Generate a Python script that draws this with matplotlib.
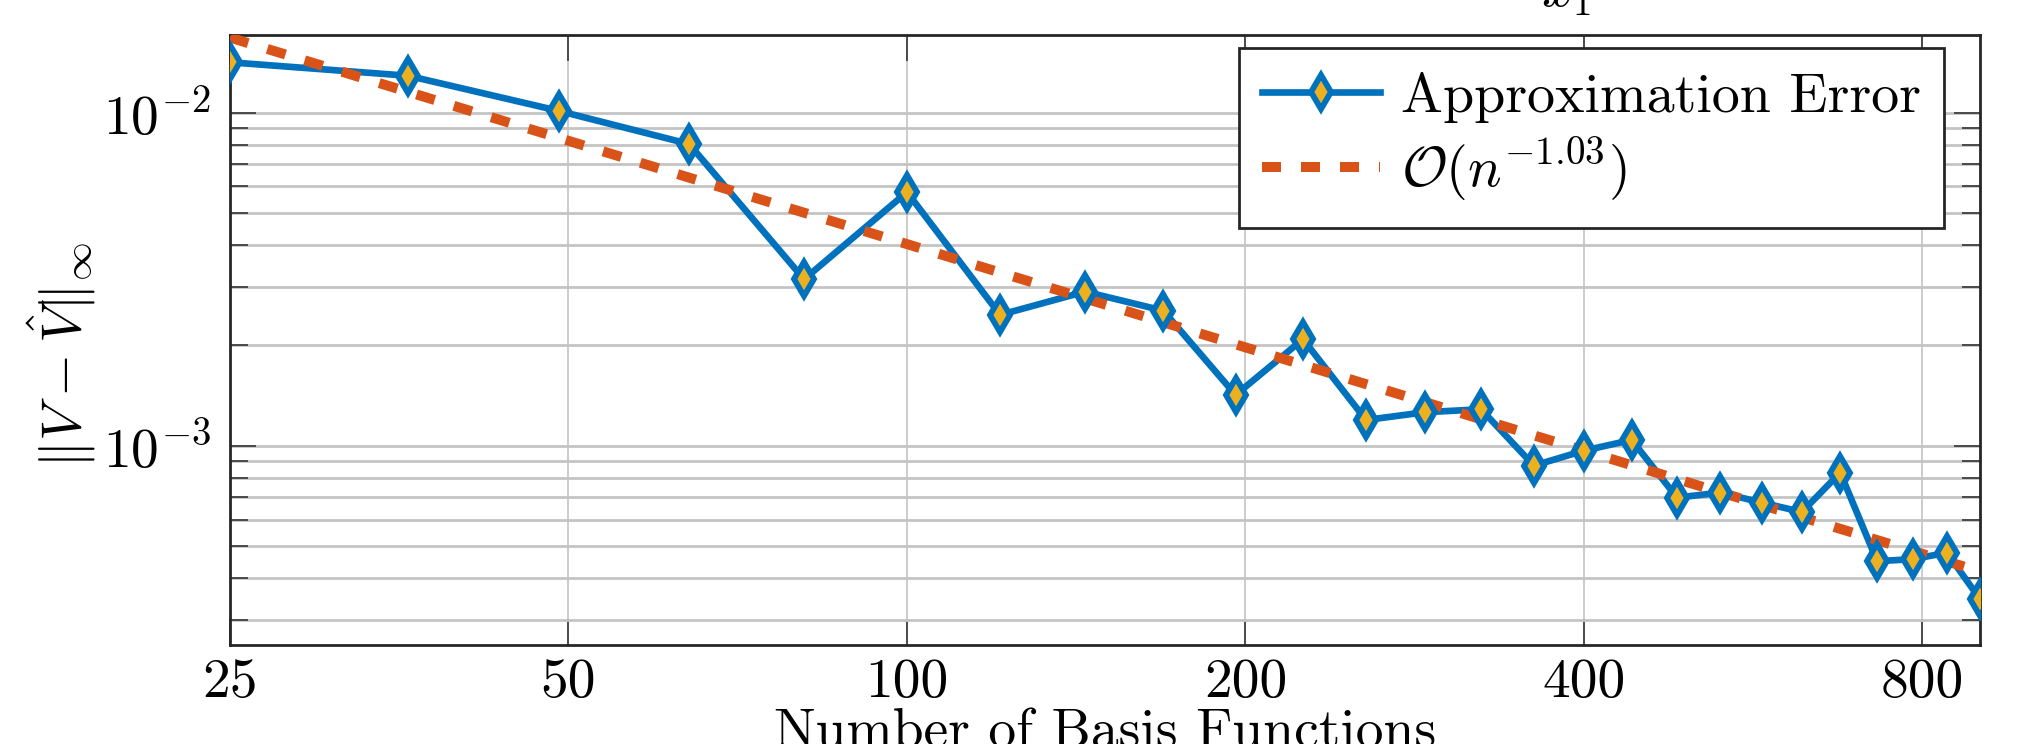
import matplotlib

matplotlib.use("Agg")
import matplotlib.pyplot as plt
from matplotlib.lines import Line2D
from matplotlib.ticker import FixedLocator, LogLocator, NullFormatter, NullLocator

plt.rcParams.update(
    {
        "font.family": "serif",
        "font.serif": ["cmr10"],
        "mathtext.fontset": "cm",
        "axes.formatter.use_mathtext": True,
        "axes.unicode_minus": False,
    }
)

# number of basis functions (k^2, k = 5..30)
n_basis = [25, 36, 49, 64, 81, 100, 121, 144, 169, 196, 225, 256, 289,
           324, 361, 400, 441, 484, 529, 576, 625, 676, 729, 784, 841, 900]
approx_error = [0.01416, 0.0129, 0.01012, 0.00805, 0.00316, 0.00577, 0.00247,
                0.0029, 0.002543, 0.00142, 0.002087, 0.001194, 0.00126,
                0.001286, 0.000871, 0.000966, 0.00104, 0.000698, 0.000723,
                0.000674, 0.000632, 0.00083, 0.00045, 0.000456, 0.000477,
                0.000346]

# end points of the fitted rate line
fit_n = [25, 900]
fit_err = [0.0168, 0.000419]

x_ticks = [25, 50, 100, 200, 400, 800]

BLUE = "#0072BD"
ORANGE = "#D95319"
YELLOW = "#EDB120"
FS = 40
MS, MEW = 17.5, 4.2

fig = plt.figure(figsize=(20.23, 7.44), dpi=100)
ax = fig.add_axes([230 / 2023, 1 - 645 / 744, 1750 / 2023, 610 / 744])

ax.plot(n_basis, approx_error, color=BLUE, lw=4.8, zorder=3)
ax.plot(fit_n, fit_err, color=ORANGE, lw=7.2, dashes=(1.9, 2.0), zorder=4)
ax.plot(n_basis, approx_error, ls="none", marker="d", ms=MS, mew=MEW,
        mec=BLUE, mfc=YELLOW, zorder=5)

ax.set_xscale("log")
ax.set_yscale("log")
ax.set_xlim(25, 900)
ax.set_ylim(2.52e-4, 0.0171)

ax.xaxis.set_major_locator(FixedLocator(x_ticks))
ax.xaxis.set_minor_locator(NullLocator())
ax.set_xticklabels([str(t) for t in x_ticks])
ax.yaxis.set_major_locator(LogLocator(base=10))
ax.yaxis.set_minor_locator(LogLocator(base=10, subs=range(2, 10)))
ax.yaxis.set_minor_formatter(NullFormatter())

ax.tick_params(which="both", direction="in", top=True, right=True,
               color="#404040", labelsize=FS)
ax.tick_params(which="major", length=19, width=1.3)
ax.tick_params(which="minor", length=13, width=1.3)
ax.tick_params(axis="x", pad=10)
ax.tick_params(axis="y", pad=14)

ax.grid(True, axis="x", which="major", color="#c4c4c4", lw=1.2)
ax.grid(True, axis="y", which="both", color="#c4c4c4", lw=2.0)
ax.set_axisbelow(True)
for s in ax.spines.values():
    s.set_color("#262626")
    s.set_linewidth(2.0)

ax.set_xlabel("Number of Basis Functions", fontsize=FS)
ax.xaxis.set_label_coords(0.5, -0.105)

# y label placed by hand, it overlaps the tick labels like the original
fig.text(62 / 2023, 1 - 355 / 744, r"$\|V\:{-}\:\hat{V}\|_\infty$",
         fontsize=FS, rotation=90, ha="center", va="center")

fig.text(1566 / 2023, 1 - 7 / 744, r"$x_1$", fontsize=FS, ha="center",
         va="baseline")

h1 = Line2D([], [], color=BLUE, lw=4.8, marker="d", ms=MS, mew=MEW,
            mec=BLUE, mfc=YELLOW)
h2 = Line2D([], [], color=ORANGE, lw=7.2, dashes=(1.9, 2.0))
leg = ax.legend([h1, h2], ["Approximation Error", r"$\mathcal{O}(n^{-1.03})$"],
                loc="upper right", bbox_to_anchor=(0.9797, 0.978),
                borderaxespad=0, fontsize=40.3, fancybox=False, framealpha=1,
                edgecolor="#262626", handlelength=2.1, handletextpad=0.38,
                borderpad=0.42, labelspacing=0.22)
leg.get_frame().set_linewidth(2.0)

fig.savefig("out.png", dpi=100)
